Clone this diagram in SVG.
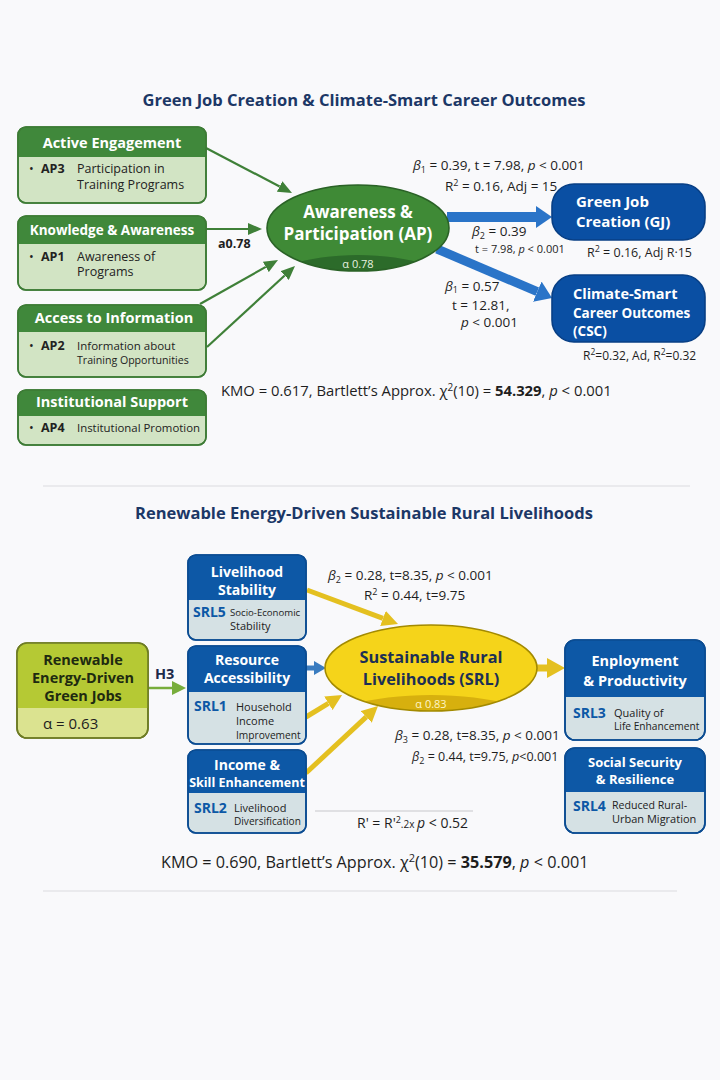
<svg xmlns="http://www.w3.org/2000/svg" width="720" height="1080" viewBox="0 0 720 1080">
<defs>
<style>
text{font-family:"Open Sans","Noto Sans","DejaVu Sans",sans-serif;fill:#1e1e1e}
.title{font-size:16.5px;font-weight:700;fill:#1c3766;text-anchor:middle}
.gh{font-size:14.5px;font-weight:700;fill:#fff;text-anchor:middle}
.gb{font-size:12.5px;fill:#222}
.gbb{font-size:12.5px;font-weight:700;fill:#222}
.lbl{font-size:13.5px;fill:#1e1e1e}
.sm{font-size:11px;fill:#1e1e1e}
.it{font-style:italic}
.bh{font-size:14px;font-weight:700;fill:#fff;text-anchor:middle}
.code{font-size:14px;font-weight:700;fill:#0d58a6}
.bd{font-size:11px;fill:#222}
.wt{font-size:15px;font-weight:700;fill:#fff}
.gbox{fill:#d2e4c4;stroke:#3d7b35;stroke-width:1.6}
.ghead{fill:#40883b}
.bbox{fill:#d5e1e4;stroke:#0b4c92;stroke-width:1.6}
.bhead{fill:#0d58a6}
.garrow{stroke:#3f8038;stroke-width:2.2;fill:none}
.barrow{stroke:#2a74c8;fill:none}
.yarrow{stroke:#e4c020;fill:none}
</style>
<marker id="mg" markerUnits="userSpaceOnUse" markerWidth="14" markerHeight="12" refX="0" refY="6" orient="auto"><path d="M0,0 L14,6 L0,12 z" fill="#3f8038"/></marker>
<marker id="mb" markerUnits="userSpaceOnUse" markerWidth="16" markerHeight="22" refX="0" refY="11" orient="auto"><path d="M0,0 L16,11 L0,22 z" fill="#2a74c8"/></marker>
<marker id="mbs" markerUnits="userSpaceOnUse" markerWidth="12" markerHeight="14" refX="0" refY="7" orient="auto"><path d="M0,0 L12,7 L0,14 z" fill="#3a7cc0"/></marker>
<marker id="my" markerUnits="userSpaceOnUse" markerWidth="16" markerHeight="16" refX="0" refY="8" orient="auto"><path d="M0,0 L16,8 L0,16 z" fill="#e4c020"/></marker>
<marker id="myb" markerUnits="userSpaceOnUse" markerWidth="18" markerHeight="20" refX="0" refY="10" orient="auto"><path d="M0,0 L18,10 L0,20 z" fill="#e4c020"/></marker>
<marker id="mh" markerUnits="userSpaceOnUse" markerWidth="14" markerHeight="14" refX="0" refY="7" orient="auto"><path d="M0,0 L14,7 L0,14 z" fill="#78ad3c"/></marker>
<clipPath id="cap"><ellipse cx="358" cy="228" rx="91" ry="43"/></clipPath>
<clipPath id="csrl"><ellipse cx="431" cy="668" rx="106" ry="43"/></clipPath>
</defs>
<rect width="720" height="1080" fill="#f9f9fb"/>

<text x="364" y="106" class="title">Green Job Creation &amp; Climate-Smart Career Outcomes</text>

<g id="connectors">
<line class="garrow" x1="206" y1="148" x2="279.6" y2="186.5" marker-end="url(#mg)"/>
<line class="garrow" x1="206" y1="229" x2="248" y2="229" marker-end="url(#mg)"/>
<line class="garrow" x1="200" y1="304" x2="265.8" y2="266.9" marker-end="url(#mg)"/>
<line class="garrow" x1="207" y1="347" x2="284.7" y2="275.5" marker-end="url(#mg)"/>
<line class="barrow" stroke-width="10" x1="447" y1="217" x2="536" y2="217" marker-end="url(#mb)"/>
<line class="barrow" stroke-width="9" x1="437" y1="249" x2="537.3" y2="291.7" marker-end="url(#mb)"/>
<line stroke="#78ad3c" stroke-width="2.5" x1="148" y1="688" x2="172" y2="688" marker-end="url(#mh)"/>
<line class="yarrow" stroke-width="5" x1="307" y1="590" x2="383" y2="618.4" marker-end="url(#my)"/>
<line stroke="#3a7cc0" stroke-width="5" x1="306" y1="668" x2="314" y2="668" marker-end="url(#mbs)"/>
<line class="yarrow" stroke-width="5" x1="306" y1="717" x2="328.4" y2="703.3" marker-end="url(#my)"/>
<line class="yarrow" stroke-width="5" x1="306" y1="773" x2="366.3" y2="716.9" marker-end="url(#my)"/>
<line class="yarrow" stroke-width="7" x1="537" y1="668" x2="547" y2="668" marker-end="url(#myb)"/>
</g>

<g id="active-engagement">
<rect class="gbox" x="18" y="127" width="188" height="76" rx="8"/>
<path class="ghead" d="M18,157 V135 Q18,127 26,127 H198 Q206,127 206,135 V157 Z"/>
<rect x="18" y="127" width="188" height="76" rx="8" fill="none" stroke="#3d7b35" stroke-width="1.6"/>
<text x="112" y="148" class="gh">Active Engagement</text>
<text x="29" y="173" class="gb">•</text><text x="41" y="173" class="gbb">AP3</text>
<text x="77" y="173" class="gb">Participation in</text>
<text x="77" y="189" class="gb">Training Programs</text>
</g>

<g id="knowledge-awareness">
<rect class="gbox" x="18" y="216" width="188" height="74" rx="8"/>
<path class="ghead" d="M18,244 V224 Q18,216 26,216 H198 Q206,216 206,224 V244 Z"/>
<rect x="18" y="216" width="188" height="74" rx="8" fill="none" stroke="#3d7b35" stroke-width="1.6"/>
<text x="112" y="235" class="gh" style="font-size:13.5px">Knowledge &amp; Awareness</text>
<text x="29" y="261" class="gb">•</text><text x="41" y="261" class="gbb">AP1</text>
<text x="77" y="261" class="gb">Awareness of</text>
<text x="77" y="276" class="gb">Programs</text>
</g>

<g id="access-information">
<rect class="gbox" x="18" y="305" width="188" height="72" rx="8"/>
<path class="ghead" d="M18,332 V313 Q18,305 26,305 H198 Q206,305 206,313 V332 Z"/>
<rect x="18" y="305" width="188" height="72" rx="8" fill="none" stroke="#3d7b35" stroke-width="1.6"/>
<text x="114" y="323" class="gh">Access to Information</text>
<text x="29" y="350" class="gb">•</text><text x="41" y="350" class="gbb">AP2</text>
<text x="77" y="350" class="gb" style="font-size:11.5px">Information about</text>
<text x="77" y="364" class="gb" style="font-size:10.6px">Training Opportunities</text>
</g>

<g id="institutional-support">
<rect class="gbox" x="18" y="390" width="188" height="55" rx="8"/>
<path class="ghead" d="M18,416 V398 Q18,390 26,390 H198 Q206,390 206,398 V416 Z"/>
<rect x="18" y="390" width="188" height="55" rx="8" fill="none" stroke="#3d7b35" stroke-width="1.6"/>
<text x="112" y="407" class="gh">Institutional Support</text>
<text x="29" y="432" class="gb">•</text><text x="41" y="432" class="gbb">AP4</text>
<text x="77" y="432" class="gb" style="font-size:11.4px">Institutional Promotion</text>
</g>

<g id="ap">
<ellipse cx="358" cy="228" rx="91" ry="43" fill="#3f8a36"/>
<ellipse cx="358" cy="288" rx="96" ry="33" fill="#2c6b2a" clip-path="url(#cap)"/>
<ellipse cx="358" cy="228" rx="91" ry="43" fill="none" stroke="#2a6226" stroke-width="1.6"/>
<text x="358" y="218" text-anchor="middle" style="font-size:17px;font-weight:700;fill:#fff">Awareness &amp;</text>
<text x="358" y="240" text-anchor="middle" style="font-size:17px;font-weight:700;fill:#fff">Participation (AP)</text>
<text x="358" y="268" text-anchor="middle" style="font-size:11px;fill:#e8f2e0">α 0.78</text>
</g>

<g id="gj">
<rect x="552" y="184" width="153" height="56" rx="22" fill="#0a4fa3" stroke="#083f85" stroke-width="1.6"/>
<text x="576" y="207" class="wt">Green Job</text>
<text x="576" y="227" class="wt">Creation (GJ)</text>
</g>

<g id="csc">
<rect x="552" y="275" width="153" height="67" rx="22" fill="#0a4fa3" stroke="#083f85" stroke-width="1.6"/>
<text x="573" y="299" class="wt" style="font-size:14.5px">Climate-Smart</text>
<text x="573" y="318" class="wt" style="font-size:13.5px">Career Outcomes</text>
<text x="573" y="336" class="wt" style="font-size:13.5px">(CSC)</text>
</g>

<g id="top-labels">
<text x="218" y="248" style="font-size:12.5px;font-weight:700">a0.78</text>
<text x="413" y="170" class="lbl"><tspan class="it">β</tspan><tspan font-size="9" dy="3">1</tspan><tspan dy="-3"> = 0.39, t = 7.98, </tspan><tspan class="it">p</tspan> &lt; 0.001</text>
<text x="445" y="191" class="lbl">R<tspan font-size="9" dy="-5">2</tspan><tspan dy="5"> = 0.16, Adj = 15</tspan></text>
<text x="472" y="236" class="lbl"><tspan class="it">β</tspan><tspan font-size="9" dy="3">2</tspan><tspan dy="-3"> = 0.39</tspan></text>
<text x="475" y="253" class="sm">t = 7.98, <tspan class="it">p</tspan> &lt; 0.001</text>
<text x="445" y="291" class="lbl"><tspan class="it">β</tspan><tspan font-size="9" dy="2">1</tspan><tspan dy="-2"> = 0.57</tspan></text>
<text x="452" y="310" class="lbl">t = 12.81,</text>
<text x="461" y="327" class="lbl"><tspan class="it">p</tspan> &lt; 0.001</text>
<text x="587" y="257" class="lbl" style="font-size:12.5px">R<tspan font-size="9" dy="-5">2</tspan><tspan dy="5"> = 0.16, Adj R·15</tspan></text>
<text x="583" y="360" class="lbl" style="font-size:12px">R<tspan font-size="8.5" dy="-5">2</tspan><tspan dy="5">=0.32, Ad, R</tspan><tspan font-size="8.5" dy="-5">2</tspan><tspan dy="5">=0.32</tspan></text>
<text x="221" y="396" class="lbl" style="font-size:14.8px">KMO = 0.617, Bartlett’s Approx. χ<tspan font-size="10" dy="-5">2</tspan><tspan dy="5">(10) = </tspan><tspan font-weight="700">54.329</tspan>, <tspan class="it">p</tspan> &lt; 0.001</text>
</g>

<line x1="43" y1="486" x2="690" y2="486" stroke="#dcdcdf" stroke-width="1.2"/>

<text x="364" y="519" class="title">Renewable Energy-Driven Sustainable Rural Livelihoods</text>

<g id="renewable">
<rect x="17" y="643" width="131" height="95" rx="10" fill="#dbe390" stroke="#6d7b24" stroke-width="1.6"/>
<path d="M17,708 V653 Q17,643 27,643 H138 Q148,643 148,653 V708 Z" fill="#b5c934"/>
<rect x="17" y="643" width="131" height="95" rx="10" fill="none" stroke="#6d7b24" stroke-width="1.6"/>
<text x="83" y="665" text-anchor="middle" style="font-size:14.5px;font-weight:700;fill:#1e2a10">Renewable</text>
<text x="83" y="683" text-anchor="middle" style="font-size:14.5px;font-weight:700;fill:#1e2a10">Energy-Driven</text>
<text x="83" y="701" text-anchor="middle" style="font-size:14.5px;font-weight:700;fill:#1e2a10">Green Jobs</text>
<text x="43" y="729" style="font-size:15px;fill:#1e1e1e">α = 0.63</text>
</g>
<text x="155" y="679" style="font-size:14.5px;font-weight:700;fill:#1c2a4a">H3</text>

<g id="livelihood-stability">
<rect class="bbox" x="188" y="555" width="118" height="85" rx="8"/>
<path class="bhead" d="M188,600 V563 Q188,555 196,555 H298 Q306,555 306,563 V600 Z"/>
<rect x="188" y="555" width="118" height="85" rx="8" fill="none" stroke="#0b4c92" stroke-width="1.6"/>
<text x="247" y="577" class="bh">Livelihood</text>
<text x="247" y="595" class="bh">Stability</text>
<text x="193" y="617" class="code">SRL5</text>
<text x="230" y="616" class="bd" style="font-size:9.6px">Socio-Economic</text>
<text x="230" y="630" class="bd">Stability</text>
</g>

<g id="resource-accessibility">
<rect class="bbox" x="188" y="646" width="118" height="98" rx="8"/>
<path class="bhead" d="M188,692 V654 Q188,646 196,646 H298 Q306,646 306,654 V692 Z"/>
<rect x="188" y="646" width="118" height="98" rx="8" fill="none" stroke="#0b4c92" stroke-width="1.6"/>
<text x="247" y="665" class="bh">Resource</text>
<text x="247" y="683" class="bh">Accessibility</text>
<text x="194" y="711" class="code">SRL1</text>
<text x="236" y="711" class="bd">Household</text>
<text x="236" y="725" class="bd">Income</text>
<text x="236" y="739" class="bd" style="font-size:10.2px">Improvement</text>
</g>

<g id="income-skill">
<rect class="bbox" x="188" y="750" width="118" height="83" rx="8"/>
<path class="bhead" d="M188,793 V758 Q188,750 196,750 H298 Q306,750 306,758 V793 Z"/>
<rect x="188" y="750" width="118" height="83" rx="8" fill="none" stroke="#0b4c92" stroke-width="1.6"/>
<text x="247" y="770" class="bh">Income &amp;</text>
<text x="247" y="787" class="bh" style="font-size:12.5px">Skill Enhancement</text>
<text x="194" y="813" class="code">SRL2</text>
<text x="234" y="812" class="bd">Livelihood</text>
<text x="234" y="825" class="bd" style="font-size:10.1px">Diversification</text>
</g>

<g id="srl">
<ellipse cx="431" cy="668" rx="106" ry="43" fill="#f5d41a"/>
<ellipse cx="431" cy="728" rx="112" ry="33" fill="#d7b00e" clip-path="url(#csrl)"/>
<ellipse cx="431" cy="668" rx="106" ry="43" fill="none" stroke="#a38a00" stroke-width="1.6"/>
<text x="431" y="663" text-anchor="middle" style="font-size:16.3px;font-weight:700;fill:#1c2f55">Sustainable Rural</text>
<text x="431" y="685" text-anchor="middle" style="font-size:16.3px;font-weight:700;fill:#1c2f55">Livelihoods (SRL)</text>
<text x="431" y="708" text-anchor="middle" style="font-size:11px;fill:#fff6c8">α 0.83</text>
</g>

<g id="employment">
<rect class="bbox" x="565" y="640" width="140" height="100" rx="10"/>
<path class="bhead" d="M565,697 V650 Q565,640 575,640 H695 Q705,640 705,650 V697 Z"/>
<rect x="565" y="640" width="140" height="100" rx="10" fill="none" stroke="#0b4c92" stroke-width="1.6"/>
<text x="635" y="666" class="bh" style="font-size:14.5px">Enployment</text>
<text x="635" y="686" class="bh" style="font-size:14.5px">&amp; Productivity</text>
<text x="573" y="718" class="code">SRL3</text>
<text x="614" y="717" class="bd">Quality of</text>
<text x="614" y="730" class="bd" style="font-size:10.2px">Life Enhancement</text>
</g>

<g id="social-security">
<rect class="bbox" x="565" y="748" width="140" height="85" rx="10"/>
<path class="bhead" d="M565,792 V758 Q565,748 575,748 H695 Q705,748 705,758 V792 Z"/>
<rect x="565" y="748" width="140" height="85" rx="10" fill="none" stroke="#0b4c92" stroke-width="1.6"/>
<text x="635" y="767" class="bh" style="font-size:13px">Social Security</text>
<text x="635" y="784" class="bh" style="font-size:13px">&amp; Resilience</text>
<text x="573" y="811" class="code">SRL4</text>
<text x="612" y="809" class="bd" style="font-size:10.6px">Reduced Rural-</text>
<text x="612" y="823" class="bd">Urban Migration</text>
</g>

<g id="bottom-labels">
<text x="328" y="580" class="lbl"><tspan class="it">β</tspan><tspan font-size="9" dy="3">2</tspan><tspan dy="-3"> = 0.28, t=8.35, </tspan><tspan class="it">p</tspan> &lt; 0.001</text>
<text x="364" y="600" class="lbl">R<tspan font-size="9" dy="-5">2</tspan><tspan dy="5"> = 0.44, t=9.75</tspan></text>
<text x="395" y="740" class="lbl"><tspan class="it">β</tspan><tspan font-size="9" dy="3">3</tspan><tspan dy="-3"> = 0.28, t=8.35, </tspan><tspan class="it">p</tspan> &lt; 0.001</text>
<text x="412" y="761" class="lbl" style="font-size:12.5px"><tspan class="it">β</tspan><tspan font-size="9" dy="3">2</tspan><tspan dy="-3"> = 0.44, t=9.75, </tspan><tspan class="it">p</tspan>&lt;0.001</text>
<line x1="315" y1="811" x2="473" y2="811" stroke="#c8c8cc" stroke-width="1.2"/>
<text x="357" y="828" class="lbl" style="font-size:14px">R' = R'<tspan font-size="9" dy="-5">2</tspan><tspan dy="5" font-size="10">.2x </tspan><tspan class="it">p</tspan> &lt; 0.52</text>
<text x="161" y="868" class="lbl" style="font-size:16.2px">KMO = 0.690, Bartlett’s Approx. χ<tspan font-size="11" dy="-6">2</tspan><tspan dy="6">(10) = </tspan><tspan font-weight="700">35.579</tspan>, <tspan class="it">p</tspan> &lt; 0.001</text>
</g>

<line x1="43" y1="891" x2="677" y2="891" stroke="#dcdcdf" stroke-width="1.2"/>
</svg>
